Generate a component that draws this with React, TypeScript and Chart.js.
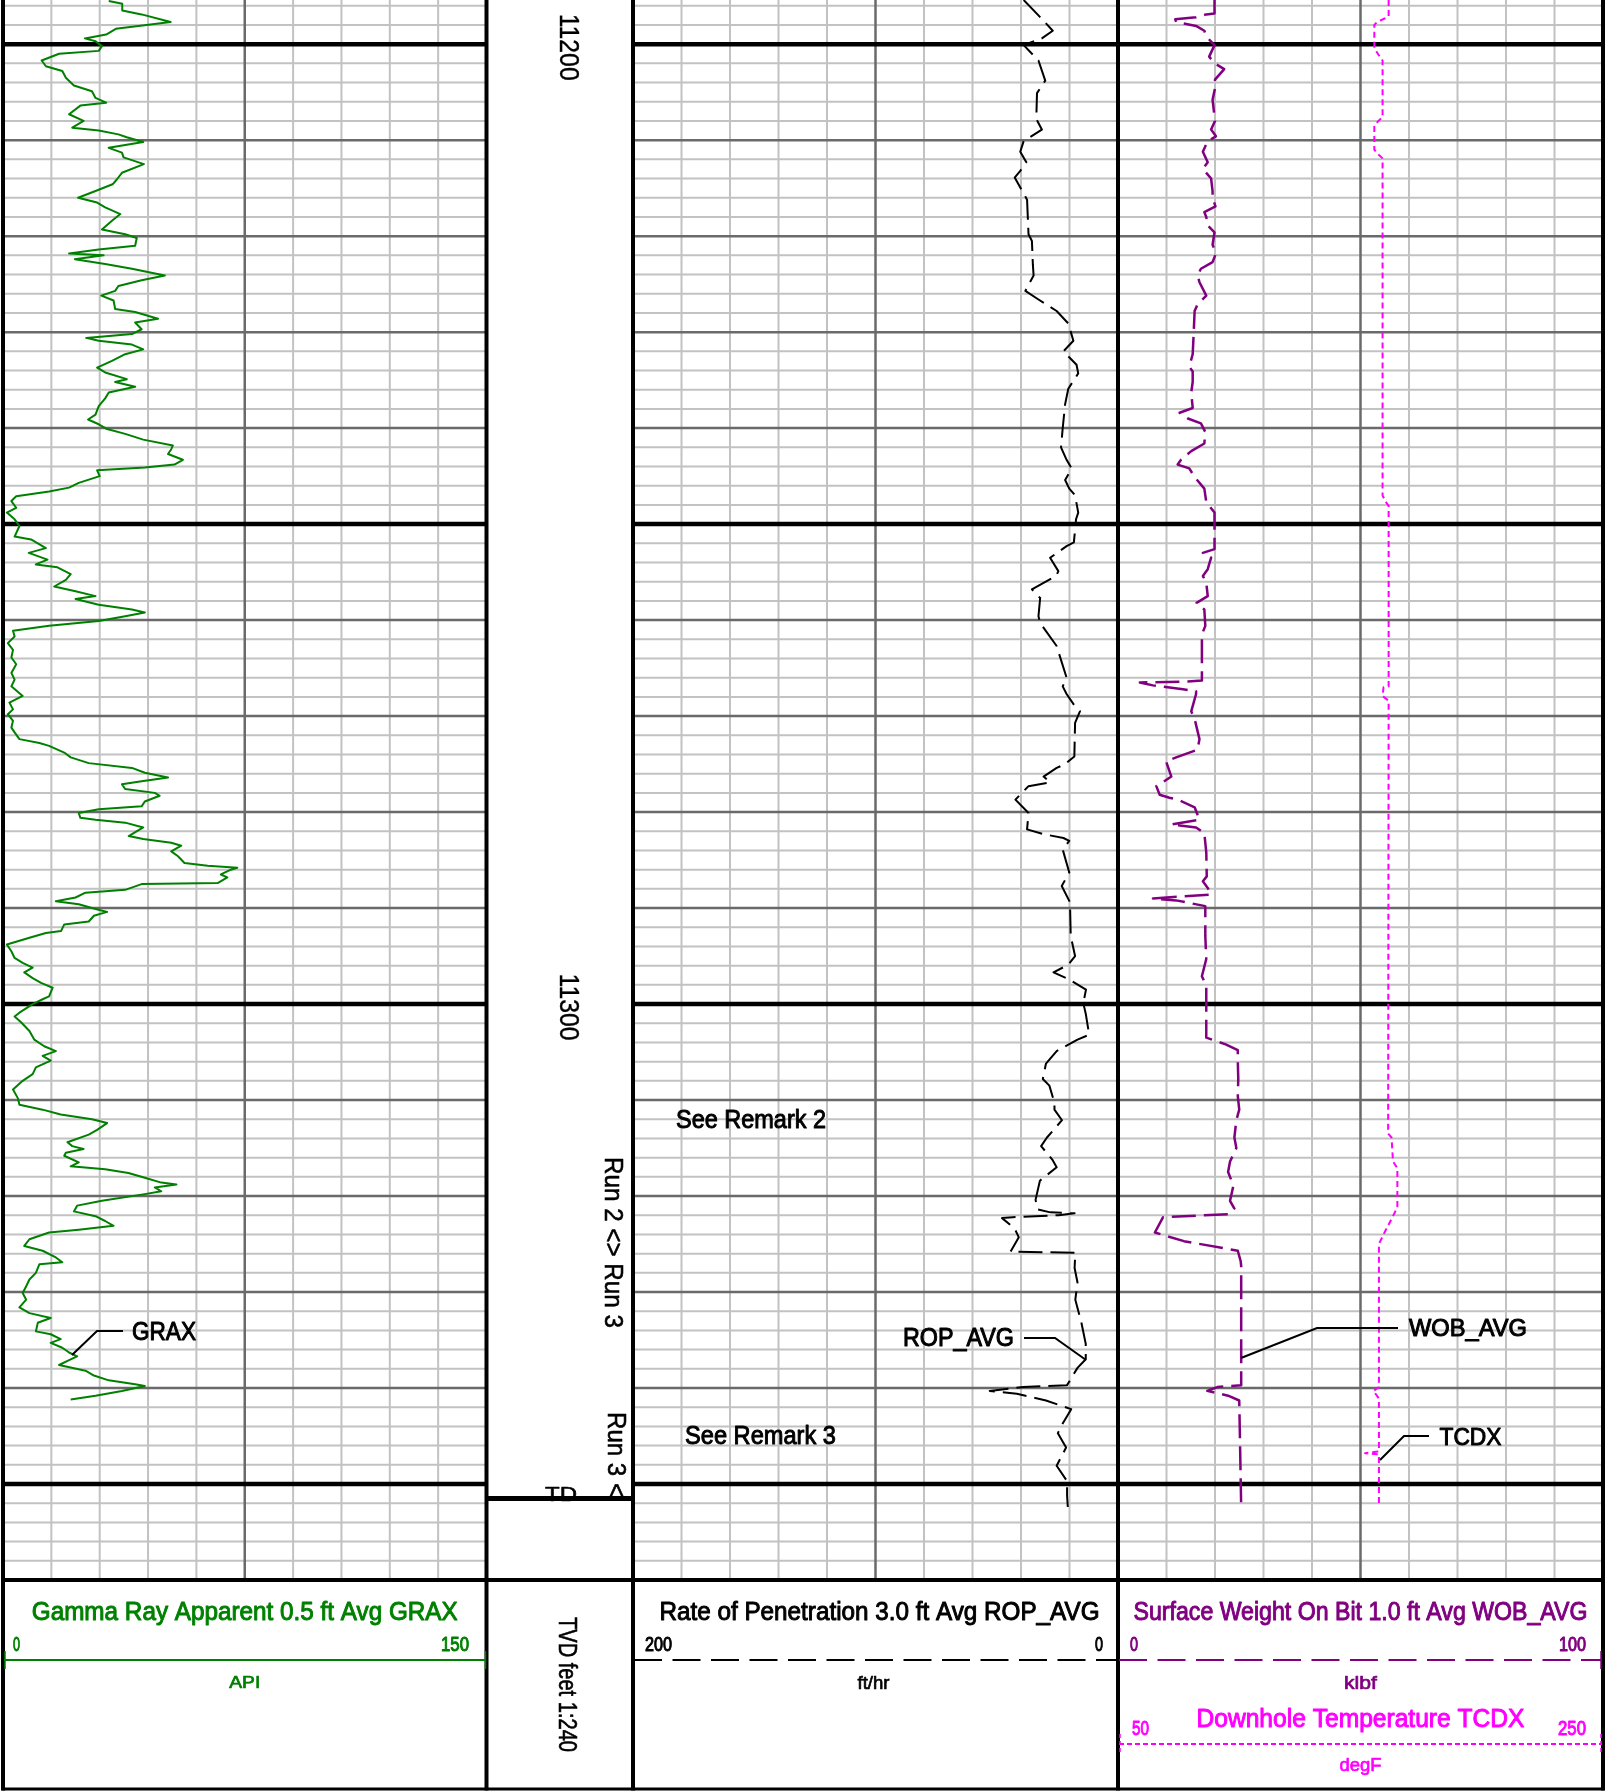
import React, { useEffect, useRef } from 'react';
import { Chart, registerables } from 'chart.js';

Chart.register(...registerables);

// ---------------- data ----------------
const DEPTH_TOP = 11195.4;
const DEPTH_BOTTOM = 11360;
const DEPTH_LABELS = [11200, 11300];
const TD_DEPTH = 11351.5;

const GR_SCALE = [0, 150];
const ROP_SCALE = [200, 0];
const WOB_SCALE = [0, 100];
const TCDX_SCALE = [50, 250];

const GR_DEPTH = [
  11195.5, 11195.8, 11196.5, 11196.9, 11197.7, 11198.1, 11198.4, 11199.0, 11199.4, 11199.7,
  11200.2, 11200.7, 11201.0, 11201.7, 11202.3, 11202.8, 11203.5, 11204.3, 11204.9, 11205.6,
  11206.1, 11206.4, 11207.3, 11208.0, 11208.7, 11209.0, 11209.4, 11209.7, 11210.2, 11210.8,
  11211.3, 11211.8, 11212.5, 11213.4, 11214.1, 11214.6, 11215.3, 11216.0, 11216.5, 11217.0,
  11217.7, 11218.4, 11219.3, 11219.8, 11220.2, 11221.0, 11221.4, 11221.8, 11222.0, 11222.4,
  11222.9, 11223.4, 11224.1, 11224.6, 11225.2, 11225.7, 11226.2, 11226.7, 11227.6, 11227.9,
  11228.6, 11229.0, 11229.7, 11230.2, 11230.6, 11230.9, 11231.3, 11231.8, 11232.3, 11233.0,
  11233.7, 11234.2, 11234.9, 11235.2, 11235.7, 11236.3, 11236.9, 11237.7, 11238.6, 11239.1,
  11239.6, 11240.1, 11240.6, 11241.2, 11241.8, 11242.2, 11242.7, 11243.3, 11243.8, 11244.1,
  11244.4, 11245.0, 11245.7, 11246.2, 11246.6, 11247.1, 11247.6, 11248.3, 11248.8, 11249.5,
  11250.2, 11251.3, 11251.6, 11252.5, 11253.0, 11253.7, 11254.2, 11254.5, 11255.2, 11255.8,
  11256.5, 11257.0, 11257.5, 11257.8, 11258.4, 11258.9, 11259.2, 11259.6, 11260.1, 11260.6,
  11261.1, 11261.7, 11262.4, 11263.1, 11263.9, 11264.6, 11265.5, 11266.2, 11266.9, 11267.9,
  11268.6, 11269.3, 11269.8, 11270.5, 11271.2, 11271.7, 11272.4, 11272.8, 11273.1, 11273.8,
  11274.3, 11274.9, 11275.4, 11275.9, 11276.4, 11276.8, 11277.1, 11277.6, 11278.0, 11278.3,
  11278.9, 11279.4, 11279.7, 11280.1, 11280.6, 11280.8, 11281.1, 11281.6, 11282.5, 11282.8,
  11283.2, 11283.5, 11284.1, 11284.6, 11285.3, 11285.6, 11285.8, 11286.0, 11286.5, 11286.8,
  11287.4, 11287.5, 11288.1, 11288.4, 11288.9, 11289.3, 11289.6, 11290.0, 11290.4, 11290.8,
  11291.4, 11291.7, 11292.4, 11292.6, 11293.1, 11293.4, 11293.8, 11294.5, 11295.2, 11295.7,
  11296.2, 11296.7, 11297.3, 11297.8, 11298.3, 11299.2, 11299.5, 11300.0, 11300.9, 11301.3,
  11301.9, 11302.8, 11303.7, 11304.4, 11304.9, 11305.4, 11305.9, 11306.6, 11307.3, 11308.0,
  11308.9, 11309.8, 11310.5, 11311.0, 11311.5, 11312.0, 11312.4, 11313.1, 11313.6, 11314.4,
  11314.8, 11315.1, 11315.5, 11315.8, 11316.5, 11316.9, 11317.2, 11317.6, 11318.1, 11318.6,
  11318.8, 11319.1, 11319.5, 11319.8, 11320.5, 11321.0, 11321.6, 11322.1, 11322.6, 11323.1,
  11323.5, 11323.8, 11324.5, 11325.2, 11325.7, 11326.4, 11326.9, 11327.1, 11328.0, 11328.7,
  11329.4, 11330.1, 11330.8, 11331.6, 11332.2, 11332.7, 11333.2, 11334.1, 11334.4, 11334.9,
  11335.3, 11335.8, 11336.3, 11336.7, 11337.1, 11337.6, 11338.2, 11338.7, 11339.2, 11339.6,
  11339.8, 11340.3, 11340.8, 11341.2,
];
const GR_API = [
  32.8, 37, 37, 43, 52, 42, 35, 32, 25.4, 28.7,
  30.7, 29.7, 17.4, 12, 13.3, 18.4, 19.5, 22, 27.6, 28.7,
  32, 24, 20.5, 25, 21.5, 29.7, 35.8, 38.4, 43.5, 32.8,
  36.9, 37.4, 43.7, 36.9, 35.3, 34, 28.7, 23.3, 29.2, 31.7,
  36.4, 33.8, 30.7, 37.9, 41.5, 41, 29.7, 20.5, 31.2, 22.3,
  31.7, 40, 50.2, 43, 35.8, 34.8, 30.5, 34.3, 34.8, 41,
  48.1, 41, 43, 40, 25.8, 29.7, 40, 43.5, 37.9, 33.8,
  29.2, 31.7, 38.4, 34.8, 41, 32.8, 31.7, 29.7, 28.7, 26.4,
  29.7, 32.3, 37.9, 43.5, 52.7, 52.2, 51.2, 55.8, 53.2, 44,
  29.2, 30, 23.5, 20.5, 14.3, 4.1, 2.6, 4.1, 1.2, 3.6,
  5.1, 3.6, 8.7, 13.3, 8, 13.8, 10.2, 16.9, 21, 19.5,
  15.9, 22.5, 28.7, 22.5, 29.7, 40, 44, 37.9, 29.7, 14.3,
  3.1, 3.6, 1.5, 3.1, 2.6, 4.1, 2.6, 3.6, 2.6, 6.1,
  2, 3.1, 1.5, 3.1, 2.6, 3.6, 5.1, 11.3, 14.3, 19,
  21, 26.6, 40, 44, 51.2, 43, 36.9, 37.9, 47.1, 48.6,
  44, 43, 29.7, 23.5, 24, 28.7, 37.9, 43.5, 39, 43.5,
  52.2, 55.3, 52.2, 54.3, 56.3, 63.5, 72.7, 70.7, 67.6, 69.6,
  66.6, 43, 37.9, 25.6, 22.5, 16.4, 23.5, 27.6, 32.3, 28.2,
  26.6, 19, 18, 13.3, 8.2, 5.1, 1.2, 2.6, 3.6, 6.1,
  9.2, 6.6, 9.2, 11.8, 15.4, 14.3, 12.3, 9.2, 5.1, 3.6,
  5.6, 8.2, 9.7, 12.8, 16.4, 12.3, 14.8, 10.2, 9.2, 6.1,
  3.1, 4.6, 5.1, 12.3, 17.9, 27.6, 32.3, 29.2, 26.6, 20,
  21.5, 25, 19.5, 19, 23.5, 21, 31.7, 38.9, 44, 49.1,
  53.8, 47.1, 49.1, 44, 30.7, 23, 22, 28.7, 31.7, 34.3,
  23.5, 14.3, 8.2, 6.6, 12.3, 16.4, 18.4, 11.3, 10.2, 8.2,
  7.2, 6.1, 7.2, 5.1, 8.2, 14.8, 10.8, 10.2, 14.8, 17.9,
  14.8, 18.4, 20.5, 23, 20.5, 17.4, 25.6, 28.2, 32.8, 41,
  44, 36.9, 28.7, 21,
];

const ROP_DEPTH = [
  11195.4, 11197.0, 11198.6, 11199.4, 11200.1, 11201.7, 11203.8, 11205.1, 11207.8, 11208.9,
  11210.1, 11211.2, 11212.3, 11213.2, 11213.9, 11216.2, 11219.8, 11220.5, 11223.0, 11224.1,
  11225.7, 11226.6, 11227.8, 11229.1, 11230.9, 11232.0, 11233.4, 11234.3, 11235.9, 11237.5,
  11240.0, 11242.0, 11243.3, 11244.2, 11245.4, 11246.3, 11247.0, 11248.8, 11249.5, 11250.6,
  11251.9, 11252.3, 11253.5, 11254.9, 11255.4, 11256.8, 11257.7, 11259.6, 11260.3, 11262.7,
  11266.0, 11266.9, 11267.7, 11268.8, 11269.5, 11270.7, 11274.2, 11275.0, 11275.4, 11276.3,
  11276.9, 11277.3, 11278.7, 11280.1, 11281.8, 11282.3, 11282.7, 11283.0, 11283.9, 11286.3,
  11287.7, 11289.4, 11292.9, 11295.0, 11295.9, 11296.7, 11297.4, 11298.5, 11299.9, 11301.0,
  11303.2, 11303.7, 11304.9, 11306.2, 11307.8, 11308.5, 11310.3, 11311.0, 11312.1, 11313.9,
  11314.8, 11316.2, 11317.0, 11318.4, 11320.4, 11321.4, 11321.7, 11321.8, 11322.0, 11322.2,
  11322.3, 11323.4, 11324.3, 11325.8, 11325.9, 11327.5, 11329.0, 11330.8, 11333.3, 11335.4,
  11337.0, 11337.9, 11339.7, 11339.9, 11340.3, 11340.6, 11341.3, 11342.2, 11343.7, 11344.7,
  11346.2, 11348.1, 11349.7, 11351.2, 11352.4,
];
const ROP_VAL = [
  38.9, 32.8, 26.9, 31.4, 38.9, 32.8, 30, 33.4, 33.7, 31.4,
  38.9, 40.3, 37.8, 40.3, 42.6, 37.5, 36.9, 35.5, 35.1, 34.8,
  38.2, 32.8, 25.3, 20.5, 18.4, 22.5, 17.1, 16.4, 20.5, 21.8,
  22.8, 23.5, 21.2, 19.1, 21.8, 20.1, 17.7, 16.4, 17.3, 17.7,
  18.2, 21.2, 28, 24.6, 25.5, 35.5, 32.1, 32.8, 32.1, 25.3,
  21.2, 22.8, 21.2, 18.2, 15.7, 17.7, 18, 21.8, 25.3, 30.7,
  28, 36.9, 42.3, 36.9, 37.5, 30.7, 22.5, 20.1, 22.8, 20.1,
  23.2, 19.8, 19.5, 17.7, 20.5, 26.6, 20.5, 13.2, 14.3, 13.3,
  11.9, 16.7, 25.3, 29.7, 31, 28.3, 26.2, 26.2, 23.1, 29.3,
  31.7, 27.1, 25.3, 32.2, 34, 33.1, 27.9, 17.9, 24.5, 43.4,
  47.8, 42.6, 40.9, 44.3, 17.6, 17.9, 16.7, 17.6, 15, 13.3,
  13.3, 16.7, 21, 39.1, 52.9, 41.7, 29.7, 19.3, 22.8, 24.8,
  21.4, 25.3, 21, 21, 20.7,
];

const WOB_DEPTH = [
  11195.4, 11196.8, 11196.9, 11197.2, 11197.4, 11197.7, 11198.1, 11198.6, 11199.2, 11200.1,
  11201.3, 11202.0, 11202.6, 11203.7, 11204.6, 11205.8, 11208.0, 11208.9, 11209.6, 11210.1,
  11211.2, 11212.3, 11213.0, 11214.0, 11215.3, 11216.0, 11216.9, 11217.5, 11218.0, 11218.9,
  11219.6, 11220.9, 11221.8, 11222.7, 11223.4, 11224.1, 11224.8, 11226.2, 11227.1, 11227.8,
  11230.2, 11232.3, 11233.6, 11234.1, 11235.2, 11236.3, 11237.9, 11238.4, 11239.0, 11239.5,
  11240.4, 11241.6, 11242.4, 11243.3, 11243.8, 11244.2, 11245.1, 11246.3, 11247.7, 11248.8,
  11252.6, 11253.0, 11253.5, 11254.7, 11255.4, 11256.1, 11257.5, 11258.2, 11258.9, 11260.6,
  11261.5, 11266.3, 11266.4, 11266.5, 11266.8, 11267.2, 11267.4, 11267.7, 11269.5, 11270.3,
  11272.4, 11273.5, 11274.3, 11274.7, 11276.3, 11276.9, 11277.3, 11278.2, 11278.5, 11278.7,
  11279.5, 11280.8, 11281.3, 11281.6, 11282.2, 11284.2, 11286.7, 11287.2, 11287.9, 11288.6,
  11288.8, 11289.0, 11289.2, 11289.8, 11292.9, 11295.3, 11297.1, 11298.1, 11303.5, 11304.2,
  11304.8, 11306.0, 11307.8, 11309.6, 11311.0, 11312.1, 11313.9, 11315.0, 11316.4, 11317.5,
  11318.9, 11320.5, 11321.3, 11321.9, 11322.2, 11323.8, 11324.7, 11325.7, 11326.8, 11327.3,
  11339.7, 11339.9, 11340.3, 11340.8, 11341.3, 11352.4,
];
const WOB_VAL = [
  19.9, 19.9, 18.2, 16.1, 11.8, 12, 16.1, 17.8, 18.2, 19.9,
  18.8, 19.9, 21.9, 20, 20, 19.5, 20, 19.2, 20.2, 18.5,
  17.5, 18.5, 17.5, 19.2, 19.5, 19.5, 20.1, 17.8, 18.2, 18.5,
  19.9, 19.5, 20.2, 19.5, 17.1, 16.4, 16.8, 18.2, 16.4, 15.8,
  15.6, 15.4, 14.7, 15.4, 15.4, 15.1, 15.4, 12.7, 14.4, 17.1,
  18, 17.8, 15.1, 13, 12.3, 14.7, 15.8, 17.8, 18.2, 19.9,
  19.9, 17.5, 19.2, 18.5, 17.5, 18.2, 18.5, 16.2, 17.8, 18,
  17.3, 17.3, 14.4, 4.5, 7.2, 13.4, 16.1, 16.1, 15.1, 15.8,
  16.8, 16.4, 12, 9.9, 11, 9.2, 7.9, 8.6, 10.6, 12.3,
  15.8, 16.8, 11, 16.1, 17.8, 18.2, 18.3, 17.5, 18.5, 19.2,
  13, 7.2, 12, 18, 18, 18.2, 17.3, 18.2, 18.2, 22.2,
  24.7, 24.7, 24.8, 24.7, 25, 24.4, 24, 24.4, 23.1, 22.7,
  23.8, 23.1, 24, 22.7, 9.3, 7.6, 13.6, 24.7, 25.3, 25.4,
  25.4, 20.5, 18.4, 22.7, 25, 25.4,
];

const TCDX_DEPTH = [
  11195.4, 11197.1, 11197.3, 11197.7, 11198.0, 11200.4, 11201.1, 11201.7, 11207.6, 11208.0,
  11208.5, 11211.0, 11211.5, 11211.9, 11247.0, 11247.6, 11248.1, 11266.9, 11267.0, 11267.9,
  11268.4, 11313.5, 11313.9, 11316.4, 11317.1, 11321.1, 11321.8, 11323.9, 11325.0, 11339.9,
  11340.3, 11340.6, 11341.1, 11346.6, 11346.8, 11346.9, 11352.4,
];
const TCDX_VAL = [
  161.6, 161.6, 160.2, 156.8, 155.7, 155.7, 157.4, 159.1, 159.1, 157.4,
  155.7, 155.7, 157.4, 159.1, 159.1, 160.2, 161.6, 161.6, 159.5, 159.1,
  161.6, 161.4, 162.8, 163.4, 165.2, 165.2, 164, 159.7, 157.6, 157.6,
  155.3, 156.2, 157.6, 157.6, 151.9, 157.6, 157.6,
];

// ---------------- layout ----------------
const W = 1606;
const H = 1791;
const PLOT_LEFT = 3;
const PLOT_RIGHT = 1603;
const PLOT_BOTTOM = 1580;
const HEADER_BOTTOM = 1789;
const T1 = [3, 486.5];
const T2 = [633, 1118];
const T3 = [1118, 1603];

const FONT = '"Liberation Sans", Arial, sans-serif';
const GREEN = '#008000';
const PURPLE = '#800080';
const MAGENTA = '#ff00ff';
const LIGHT = '#c2c2c2';
const DARK = '#6a6a6a';

function trackScale(px: number[], v: number[]) {
  const upp = (v[1] - v[0]) / (px[1] - px[0]);
  const a = v[0] + (PLOT_LEFT - px[0]) * upp;
  const b = v[0] + (PLOT_RIGHT - px[0]) * upp;
  return {
    type: 'linear',
    axis: 'x',
    position: 'bottom',
    display: false,
    bounds: 'data',
    min: Math.min(a, b),
    max: Math.max(a, b),
    reverse: a > b,
  };
}

function label(
  ctx: CanvasRenderingContext2D,
  text: string,
  x: number,
  y: number,
  cap: number,
  width: number,
  color: string,
  align: 'left' | 'center' | 'right' = 'left',
  rot = 0,
  weight = 1
) {
  const size = cap / 0.72;
  ctx.save();
  ctx.font = `${size}px ${FONT}`;
  const w = ctx.measureText(text).width;
  const sx = width / w;
  ctx.translate(x, y);
  if (rot) ctx.rotate(rot);
  ctx.scale(sx, 1);
  ctx.fillStyle = color;
  ctx.strokeStyle = color;
  ctx.lineWidth = weight;
  ctx.lineJoin = 'round';
  ctx.textBaseline = 'alphabetic';
  ctx.textAlign = 'left';
  const ox = align === 'center' ? -w / 2 : align === 'right' ? -w : 0;
  ctx.fillText(text, ox, cap / 2);
  if (weight > 0) ctx.strokeText(text, ox, cap / 2);
  ctx.restore();
}

function poly(ctx: CanvasRenderingContext2D, pts: number[][], color: string, width: number, dash: number[] = []) {
  ctx.save();
  ctx.strokeStyle = color;
  ctx.lineWidth = width;
  ctx.setLineDash(dash);
  ctx.beginPath();
  pts.forEach((p, i) => (i ? ctx.lineTo(p[0], p[1]) : ctx.moveTo(p[0], p[1])));
  ctx.stroke();
  ctx.restore();
}

const logPlugin = {
  id: 'wellLog',
  beforeDraw(chart: any) {
    const ctx = chart.ctx;
    ctx.save();
    ctx.fillStyle = '#ffffff';
    ctx.fillRect(0, 0, chart.width, chart.height);
    ctx.restore();
  },
  beforeDatasetsDraw(chart: any) {
    const ctx: CanvasRenderingContext2D = chart.ctx;
    const ys = chart.scales.y;
    const gx = chart.scales.xGR;
    const rx = chart.scales.xROP;
    const wx = chart.scales.xWOB;
    const top = chart.chartArea.top;
    const bottom = chart.chartArea.bottom;
    const tracks = [
      [gx.getPixelForValue(GR_SCALE[0]), gx.getPixelForValue(GR_SCALE[1])],
      [rx.getPixelForValue(ROP_SCALE[0]), rx.getPixelForValue(ROP_SCALE[1])],
      [wx.getPixelForValue(WOB_SCALE[0]), wx.getPixelForValue(WOB_SCALE[1])],
    ];
    const hLine = (d: number, color: string, w: number) => {
      const py = ys.getPixelForValue(d);
      ctx.save();
      ctx.strokeStyle = color;
      ctx.lineWidth = w;
      ctx.beginPath();
      for (const [l, r] of tracks) {
        ctx.moveTo(l, py);
        ctx.lineTo(r, py);
      }
      ctx.stroke();
      ctx.restore();
    };
    const vLine = (px: number, color: string, w: number, y0 = top, y1 = bottom) => {
      ctx.save();
      ctx.strokeStyle = color;
      ctx.lineWidth = w;
      ctx.beginPath();
      ctx.moveTo(px, y0);
      ctx.lineTo(px, y1);
      ctx.stroke();
      ctx.restore();
    };
    const first = Math.ceil(DEPTH_TOP / 2) * 2;
    for (let d = first; d < DEPTH_BOTTOM; d += 2) if (d % 10 !== 0) hLine(d, LIGHT, 2);
    const scales = [
      [gx, GR_SCALE],
      [rx, ROP_SCALE],
      [wx, WOB_SCALE],
    ];
    for (const [sc, rng] of scales as any) {
      for (let i = 1; i < 10; i++) {
        if (i === 5) continue;
        vLine(sc.getPixelForValue(rng[0] + ((rng[1] - rng[0]) * i) / 10), LIGHT, 2);
      }
    }
    for (let d = Math.ceil(DEPTH_TOP / 10) * 10; d < DEPTH_BOTTOM; d += 10) if (d % 50 !== 0) hLine(d, DARK, 2.5);
    for (const [sc, rng] of scales as any) vLine(sc.getPixelForValue((rng[0] + rng[1]) / 2), DARK, 2.5);
    for (let d = Math.ceil(DEPTH_TOP / 50) * 50; d < DEPTH_BOTTOM; d += 50) hLine(d, '#000', 4.5);

    const borders = [tracks[0][0], tracks[0][1], tracks[1][0], tracks[1][1], tracks[2][1]];
    for (const b of borders) vLine(b, '#000', 4, 0, HEADER_BOTTOM + 1.5);
    poly(ctx, [[PLOT_LEFT, bottom], [PLOT_RIGHT, bottom]], '#000', 4);
    poly(ctx, [[PLOT_LEFT - 1.5, HEADER_BOTTOM], [PLOT_RIGHT + 1.5, HEADER_BOTTOM]], '#000', 3);
  },
  afterDatasetsDraw(chart: any) {
    const ctx: CanvasRenderingContext2D = chart.ctx;
    const ys = chart.scales.y;
    const gx = chart.scales.xGR;
    const rx = chart.scales.xROP;
    const wx = chart.scales.xWOB;
    const dL = gx.getPixelForValue(GR_SCALE[1]);
    const dR = rx.getPixelForValue(ROP_SCALE[0]);
    const dC = (dL + dR) / 2;
    const rot = Math.PI / 2;

    // depth track
    for (const d of DEPTH_LABELS) label(ctx, String(d), dC + 10, ys.getPixelForValue(d) + 3, 20, 67, '#000', 'center', rot, 0.4);
    label(ctx, 'Run 2 <> Run 3', 614, 1242.5, 19, 171, '#000', 'center', rot, 0.6);
    label(ctx, 'Run 3 <', 617, 1454.5, 19, 85, '#000', 'center', rot, 0.6);
    label(ctx, 'TD', 545, 1493, 15, 32, '#000', 'left', 0, 0.6);
    const tdY = ys.getPixelForValue(TD_DEPTH);
    poly(ctx, [[dL, tdY], [dR, tdY]], '#000', 5);

    // remarks and curve names
    label(ctx, 'See Remark 2', 676, 1118.5, 19, 150, '#000');
    label(ctx, 'See Remark 3', 685, 1434.5, 19, 151, '#000');
    label(ctx, 'GRAX', 132, 1331, 18, 64, '#000');
    poly(ctx, [[72, 1355], [97, 1331], [123, 1331]], '#000', 2);
    label(ctx, 'ROP_AVG', 903, 1337, 18, 111, '#000');
    poly(ctx, [[1086, 1360], [1055, 1338], [1024, 1338]], '#000', 2);
    label(ctx, 'WOB_AVG', 1409, 1327.5, 17.5, 118, '#000');
    poly(ctx, [[1241, 1358], [1317, 1328], [1398, 1328]], '#000', 2);
    label(ctx, 'TCDX', 1439.5, 1436.5, 17, 62, '#000');
    poly(ctx, [[1380, 1460], [1404, 1436], [1429, 1436]], '#000', 2);

    // header
    const t1 = [gx.getPixelForValue(GR_SCALE[0]), dL];
    const t2 = [dR, rx.getPixelForValue(ROP_SCALE[1])];
    const t3 = [wx.getPixelForValue(WOB_SCALE[0]), wx.getPixelForValue(WOB_SCALE[1])];
    const c1 = (t1[0] + t1[1]) / 2;
    const c2 = (t2[0] + t2[1]) / 2;
    const c3 = (t3[0] + t3[1]) / 2;

    label(ctx, 'Gamma Ray Apparent 0.5 ft Avg GRAX', c1, 1610.5, 19, 426, GREEN, 'center');
    label(ctx, String(GR_SCALE[0]), 13, 1644, 14, 7, GREEN, 'left', 0, 1);
    label(ctx, String(GR_SCALE[1]), 469, 1644, 14, 28, GREEN, 'right', 0, 1);
    poly(ctx, [[t1[0] + 1, 1660], [t1[1] - 1, 1660]], GREEN, 2);
    poly(ctx, [[t1[0] + 2, 1651], [t1[0] + 2, 1669]], GREEN, 1.5);
    poly(ctx, [[t1[1] - 1, 1651], [t1[1] - 1, 1669]], GREEN, 1.5);
    label(ctx, 'API', c1, 1682, 12.5, 31, GREEN, 'center', 0, 0.7);

    label(ctx, 'TVD feet 1:240', dC + 9, 1684.5, 19, 135, '#000', 'center', rot, 0.6);

    label(ctx, 'Rate of Penetration 3.0 ft Avg ROP_AVG', c2 + 4, 1610.5, 19, 440, '#000', 'center');
    label(ctx, String(ROP_SCALE[0]), 645, 1644, 14, 27, '#000', 'left', 0, 1);
    label(ctx, String(ROP_SCALE[1]), 1103, 1644, 14, 8, '#000', 'right', 0, 1);
    poly(ctx, [[t2[0] + 1, 1660], [t2[1], 1660]], '#000', 2, [28, 10.5]);
    label(ctx, 'ft/hr', c2 - 2, 1682.5, 13, 32, '#000', 'center', 0, 0.7);

    label(ctx, 'Surface Weight On Bit 1.0 ft Avg WOB_AVG', c3, 1610.5, 19, 454, PURPLE, 'center');
    label(ctx, String(WOB_SCALE[0]), 1130, 1644, 14, 8, PURPLE, 'left', 0, 1);
    label(ctx, String(WOB_SCALE[1]), 1586, 1644, 14, 27, PURPLE, 'right', 0, 1);
    poly(ctx, [[t3[0] + 1, 1660], [t3[1] - 1, 1660]], PURPLE, 2, [28, 10.5]);
    poly(ctx, [[t3[1] - 2, 1651], [t3[1] - 2, 1669]], PURPLE, 1.5);
    label(ctx, 'klbf', c3, 1682.5, 13, 33, PURPLE, 'center', 0, 0.7);

    label(ctx, 'Downhole Temperature TCDX', c3, 1717.5, 19, 328, MAGENTA, 'center');
    label(ctx, String(TCDX_SCALE[0]), 1132, 1727.5, 15, 17, MAGENTA, 'left', 0, 1);
    label(ctx, String(TCDX_SCALE[1]), 1586, 1727.5, 15, 28, MAGENTA, 'right', 0, 1);
    poly(ctx, [[t3[0] + 1, 1744], [t3[1] - 1, 1744]], MAGENTA, 2, [5, 3]);
    poly(ctx, [[t3[0] + 2, 1734], [t3[0] + 2, 1753]], MAGENTA, 1.5, [4, 3]);
    poly(ctx, [[t3[1] - 2, 1734], [t3[1] - 2, 1753]], MAGENTA, 1.5, [4, 3]);
    label(ctx, 'degF', c3, 1764.5, 13.5, 42, MAGENTA, 'center', 0, 0.7);
  },
};

function pairs(depth: number[], vals: number[]) {
  return depth.map((d, i) => ({ x: vals[i], y: d }));
}

export default function App() {
  const ref = useRef<HTMLCanvasElement>(null);
  useEffect(() => {
    document.body.style.margin = '0';
    document.body.style.overflow = 'hidden';
    const canvas = ref.current;
    if (!canvas) return;
    const common = { showLine: true, pointRadius: 0, fill: false, tension: 0, borderJoinStyle: 'round', yAxisID: 'y' };
    const chart = new Chart(canvas, {
      type: 'scatter',
      data: {
        datasets: [
          { ...common, label: 'GRAX', data: pairs(GR_DEPTH, GR_API), xAxisID: 'xGR', borderColor: GREEN, borderWidth: 2 },
          { ...common, label: 'ROP_AVG', data: pairs(ROP_DEPTH, ROP_VAL), xAxisID: 'xROP', borderColor: '#000', borderWidth: 2, borderDash: [24, 8] },
          { ...common, label: 'WOB_AVG', data: pairs(WOB_DEPTH, WOB_VAL), xAxisID: 'xWOB', borderColor: PURPLE, borderWidth: 2.5, borderDash: [24, 8] },
          { ...common, label: 'TCDX', data: pairs(TCDX_DEPTH, TCDX_VAL), xAxisID: 'xTC', borderColor: MAGENTA, borderWidth: 2, borderDash: [6, 4] },
        ] as any,
      },
      options: {
        responsive: false,
        animation: false,
        devicePixelRatio: 1,
        events: [],
        layout: { padding: { left: PLOT_LEFT, right: W - PLOT_RIGHT, top: 0, bottom: H - PLOT_BOTTOM } },
        scales: {
          y: { type: 'linear', display: false, reverse: true, min: DEPTH_TOP, max: DEPTH_BOTTOM, bounds: 'data' },
          xGR: trackScale(T1, GR_SCALE),
          xROP: trackScale(T2, ROP_SCALE),
          xWOB: trackScale(T3, WOB_SCALE),
          xTC: trackScale(T3, TCDX_SCALE),
        } as any,
        plugins: { legend: { display: false }, tooltip: { enabled: false } },
      },
      plugins: [logPlugin],
    } as any);
    return () => chart.destroy();
  }, []);
  return <canvas ref={ref} width={W} height={H} style={{ display: 'block', width: W + 'px', height: H + 'px' }} />;
}
